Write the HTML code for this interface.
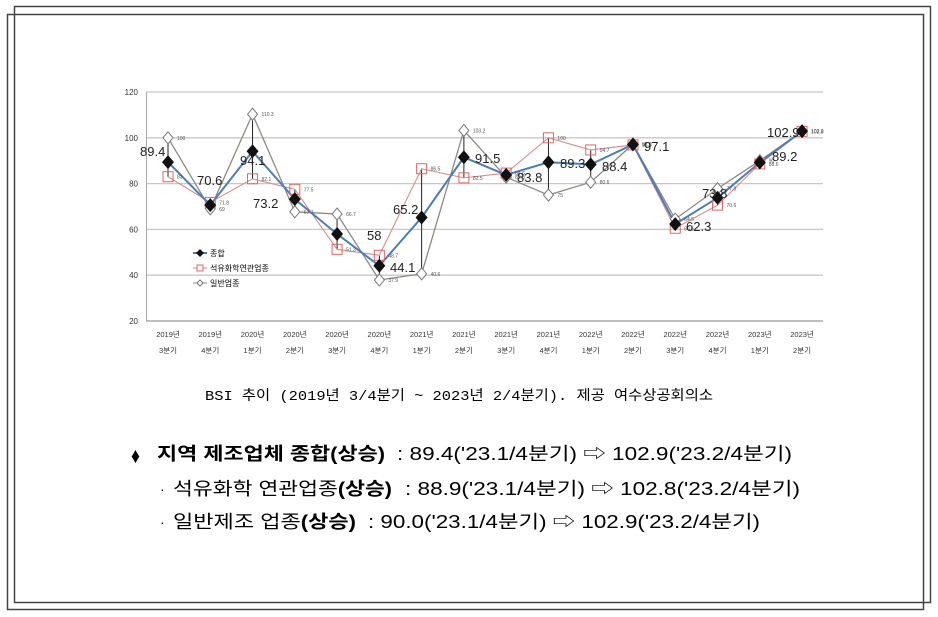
<!DOCTYPE html>
<html><head><meta charset="utf-8"><style>
body{margin:0;background:#fff;}
svg{display:block;font-family:"Liberation Sans","Noto Sans CJK KR",sans-serif;}
</style></head><body>
<svg id="s" width="938" height="617" xmlns="http://www.w3.org/2000/svg">
<rect x="14.5" y="6.5" width="916" height="596" fill="none" stroke="#444" stroke-width="1.5"/>
<rect x="7.5" y="14.5" width="916" height="595" fill="none" stroke="#444" stroke-width="1.5"/>
<g id="chart"></g>
<text x="205" y="400" font-size="14" textLength="508" lengthAdjust="spacingAndGlyphs" font-family="Liberation Mono,'Noto Sans CJK KR',monospace">BSI 추이 (2019년 3/4분기 ~ 2023년 2/4분기). 제공 여수상공회의소</text>
<text x="131" y="463" font-size="22" font-weight="bold" transform="translate(131,463) scale(0.8,1) translate(-131,-463)">♦</text>
<text x="157" y="460" font-size="18" font-weight="bold" textLength="228" lengthAdjust="spacingAndGlyphs">지역 제조업체 종합(상승)</text>
<text x="397" y="460" font-size="18" textLength="395" lengthAdjust="spacingAndGlyphs">: 89.4('23.1/4분기) ⇨ 102.9('23.2/4분기)</text>
<text x="160" y="494" font-size="14">·</text>
<text x="173" y="495" font-size="18" textLength="219" lengthAdjust="spacingAndGlyphs">석유화학 연관업종<tspan font-weight="bold">(상승)</tspan></text>
<text x="405" y="495" font-size="18" textLength="395" lengthAdjust="spacingAndGlyphs">: 88.9('23.1/4분기) ⇨ 102.8('23.2/4분기)</text>
<text x="160" y="527" font-size="14">·</text>
<text x="173" y="528" font-size="18" textLength="183" lengthAdjust="spacingAndGlyphs">일반제조 업종<tspan font-weight="bold">(상승)</tspan></text>
<text x="368" y="528" font-size="18" textLength="392" lengthAdjust="spacingAndGlyphs">: 90.0('23.1/4분기) ⇨ 102.9('23.2/4분기)</text>
</svg>
<script>
var g=document.getElementById('chart'),h='';
function Y(v){return 321-(v-20)*2.29;}
function X(i){return 168+i*42.27;}
var A=[89.4,70.6,94.1,73.2,58,44.1,65.2,91.5,83.8,89.3,88.4,97.1,62.3,73.8,89.2,102.9];
var B=[83.0,71.8,82.1,77.5,51.3,48.7,86.5,82.5,84.6,100,94.7,96.9,60.5,70.6,88.6,102.8];
var C=[100,69,110.3,67.7,66.7,37.9,40.6,103.2,82.8,75,80.6,97.2,64.5,77.8,90,102.9];
for(var v=20;v<=120;v+=20){var y=Y(v);h+='<line x1="146" x2="823" y1="'+y+'" y2="'+y+'" stroke="'+(v==20?'#999':'#c8c8c8')+'" stroke-width="1.3"/>';h+='<text x="138" y="'+(y+3)+'" font-size="8" text-anchor="end" fill="#333">'+v+'</text>';}
h+='<line x1="146.5" x2="146.5" y1="92" y2="321" stroke="#aaa"/>';
var yr=['2019','2019','2020','2020','2020','2020','2021','2021','2021','2021','2022','2022','2022','2022','2023','2023'];
var q=[3,4,1,2,3,4,1,2,3,4,1,2,3,4,1,2];
for(var i=0;i<16;i++){h+='<text x="'+X(i)+'" y="337" font-size="7.5" text-anchor="middle" fill="#333">'+yr[i]+'년</text><text x="'+X(i)+'" y="353" font-size="7.5" text-anchor="middle" fill="#333">'+q[i]+'분기</text>';
var mx=Math.max(A[i],B[i],C[i]),mn=Math.min(A[i],B[i],C[i]);h+='<line x1="'+X(i)+'" x2="'+X(i)+'" y1="'+Y(mx)+'" y2="'+Y(mn)+'" stroke="#222" stroke-width="1"/>';}
function pl(d,c,w){var p=d.map(function(v,i){return X(i)+','+Y(v)}).join(' ');return '<polyline points="'+p+'" fill="none" stroke="'+c+'" stroke-width="'+w+'"/>';}
h+=pl(C,'#8c8a80',1.3)+pl(B,'#e08a8a',1.1)+pl(A,'#4a7ebb',2);
for(var i=0;i<16;i++){var x=X(i),y;
y=Y(C[i]);h+='<polygon points="'+x+','+(y-6)+' '+(x+5)+','+y+' '+x+','+(y+6)+' '+(x-5)+','+y+'" fill="#fff" stroke="#777"/>';
y=Y(B[i]);h+='<rect x="'+(x-5)+'" y="'+(y-5)+'" width="10" height="10" fill="none" stroke="#d66"/>';
y=Y(A[i]);h+='<polygon points="'+x+','+(y-7)+' '+(x+6)+','+y+' '+x+','+(y+7)+' '+(x-6)+','+y+'" fill="#111"/>';
h+='<text x="'+(x+9)+'" y="'+(Y(B[i])+2)+'" font-size="5" fill="#555">'+B[i]+'</text>';
h+='<text x="'+(x+9)+'" y="'+(Y(C[i])+2)+'" font-size="5" fill="#555">'+C[i]+'</text>';}
var L=[[140,156],[197,185],[240,165],[253,208],[367,240],[390,272],[393,214],[475,163],[517,182],[560,168],[602,171],[644,151],[686,231],[702,198],[772,161],[767,137]];
for(var i=0;i<16;i++){h+='<text x="'+L[i][0]+'" y="'+L[i][1]+'" font-size="13" fill="#222">'+A[i]+'</text>';}
h+='<line x1="193" x2="207" y1="253" y2="253" stroke="#4a7ebb" stroke-width="2"/><polygon points="200,249 204,253 200,257 196,253" fill="#111"/><text x="210" y="256" font-size="8">종합</text>';
h+='<line x1="193" x2="207" y1="268" y2="268" stroke="#e08a8a"/><rect x="197" y="265" width="6" height="6" fill="#fff" stroke="#d66"/><text x="210" y="271" font-size="8">석유화학연관업종</text>';
h+='<line x1="193" x2="207" y1="283" y2="283" stroke="#8c8a80"/><polygon points="200,280 203,283 200,286 197,283" fill="#fff" stroke="#777"/><text x="210" y="286" font-size="8">일반업종</text>';
g.innerHTML=h;
</script>
</body></html>
